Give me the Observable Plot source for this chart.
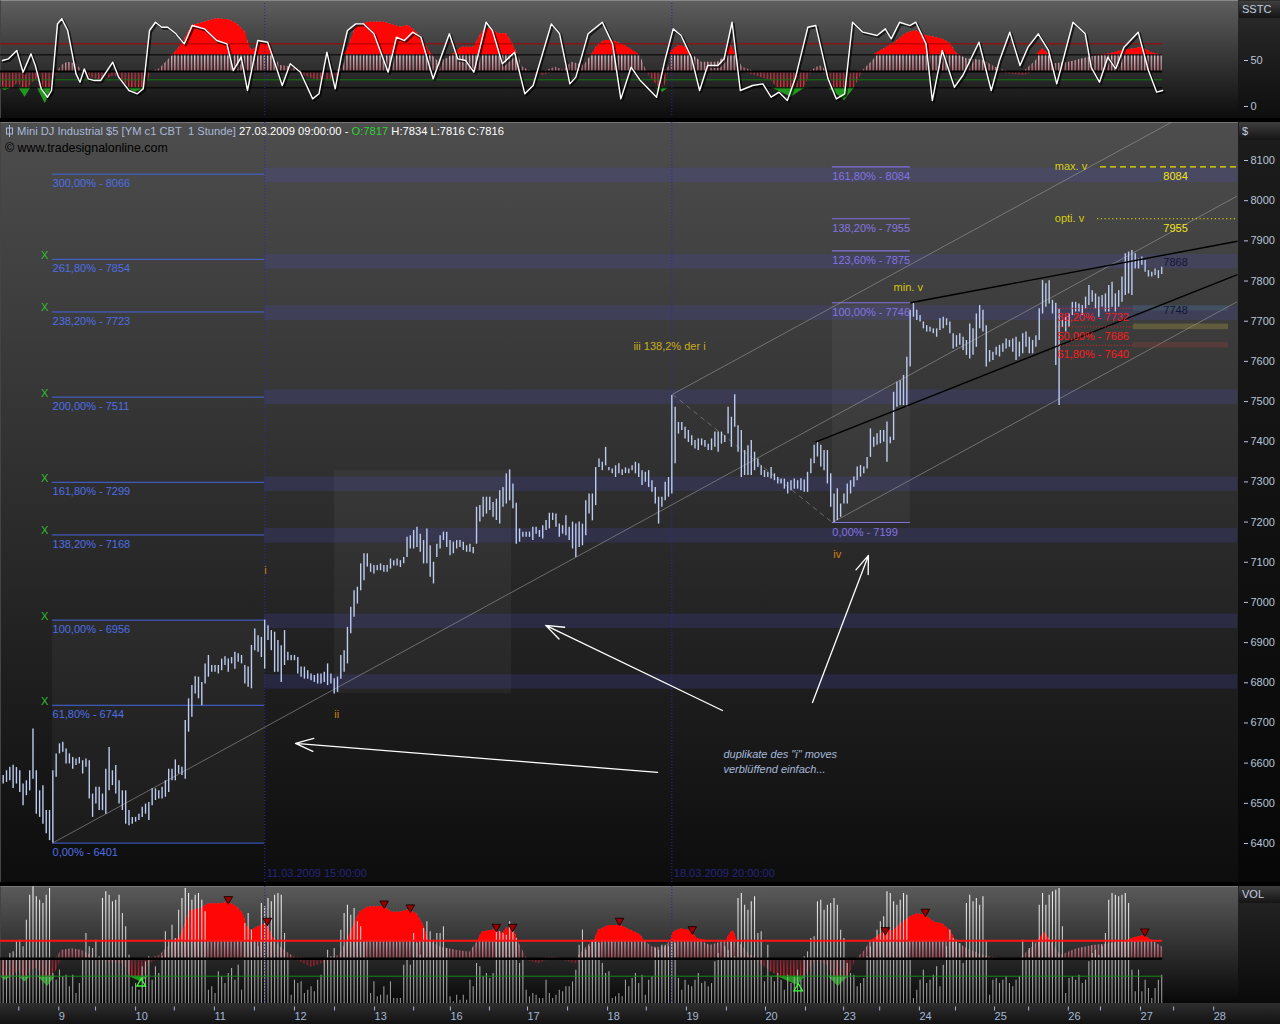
<!DOCTYPE html>
<html><head><meta charset="utf-8">
<script src="https://cdn.jsdelivr.net/npm/d3@7"></script>
<script src="https://cdn.jsdelivr.net/npm/@observablehq/plot@0.6"></script>
<style>
html,body{margin:0;padding:0;background:#000;}
#page{position:relative;width:1280px;height:1024px;overflow:hidden;font-family:"Liberation Sans",Arial,sans-serif;font-size:11px;}
.bg{position:absolute;box-sizing:border-box;}
.layer{position:absolute;left:0;width:1280px;}
.layer svg{display:block;overflow:visible;}
.tag{position:absolute;left:1239px;width:41px;height:17px;background:linear-gradient(#3e3e3e,#141414);color:#c4cce0;font-size:11px;line-height:17px;padding-left:3px;box-sizing:border-box;}
.hdr{position:absolute;left:5px;height:14px;line-height:14px;white-space:pre;}
</style></head><body>
<div id="page">
  <div class="bg" style="left:0;top:0;width:1238px;height:118px;background:linear-gradient(#5e5e5e,#0c0c0c);border-top:1px solid #8a8a8a;border-left:1px solid #444"></div>
  <div class="bg" style="left:1238px;top:0;width:42px;height:118px;background:linear-gradient(#2c2c2c,#0e0e0e)"></div>
  <div class="bg" style="left:0;top:122px;width:1238px;height:760px;background:linear-gradient(#4d4d4d,#0d0d0d);border-top:1px solid #777;border-left:1px solid #444"></div>
  <div class="bg" style="left:1238px;top:122px;width:42px;height:760px;background:linear-gradient(#1c1c1c,#070707)"></div>
  <div class="bg" style="left:0;top:886px;width:1238px;height:117px;background:linear-gradient(#5a5a5a,#080808);border-top:1px solid #777;border-left:1px solid #444"></div>
  <div class="bg" style="left:1238px;top:886px;width:42px;height:117px;background:linear-gradient(#262626,#0a0a0a)"></div>
  <div class="bg" style="left:0;top:1003px;width:1280px;height:21px;background:linear-gradient(#2e2e2e,#121212)"></div>
  <div class="tag" style="top:1px">SSTC</div>
  <div class="tag" style="top:122px;height:18px;line-height:18px">$</div>
  <div class="tag" style="top:886px">VOL</div>
  <div id="topLayer" class="layer" style="top:0"></div>
  <div id="mainLayer" class="layer" style="top:120px"></div>
  <div id="volLayerA" class="layer" style="top:884px"></div>
  <div id="volLayerB" class="layer" style="top:884px"></div>
  <div id="volLayerC" class="layer" style="top:884px"></div>
  <div class="hdr" style="top:124px;color:#a9b9d9;font-size:11.2px;"><svg width="9" height="12" style="vertical-align:-2px"><line x1="4.5" y1="0" x2="4.5" y2="12" stroke="#a9b9d9"/><rect x="1.5" y="3" width="6" height="6" fill="none" stroke="#a9b9d9"/></svg> Mini DJ Industrial $5 [YM c1 CBT  1 Stunde] <span style="color:#fff">27.03.2009 09:00:00 - </span><span style="color:#2fd22f">O:7817</span><span style="color:#fff"> H:7834 L:7816 C:7816</span></div>
  <div class="hdr" style="top:141px;color:#000;font-size:12.4px;">© www.tradesignalonline.com</div>
</div>
<script>
// ---------------- DATA ----------------
// hourly bars, index 0..350 (Mini DJ, YM c1 CBT, 1 Stunde)
const priceHigh = [
6569,6581,6590,6595,6589,6581,6548,6556,6581,6685,6581,6531,6544,6482,6482,6581,6623,6648,6652,6635,
6623,6614,6610,6614,6606,6610,6606,6523,6540,6540,6523,6585,6639,6581,6594,6556,6531,6531,6482,6465,
6465,6473,6490,6498,6502,6536,6536,6531,6540,6556,6585,6585,6608,6594,6590,6706,6760,6793,6815,6814,
6801,6847,6868,6843,6843,6843,6859,6865,6859,6863,6876,6872,6868,6843,6839,6893,6934,6917,6913,6956,
6942,6930,6926,6905,6892,6930,6876,6868,6868,6863,6839,6839,6830,6822,6818,6822,6822,6826,6847,6822,
6810,6814,6868,6880,6938,6988,7029,7038,7096,7121,7121,7096,7092,7092,7096,7092,7092,7108,7104,7108,
7104,7112,7162,7166,7179,7187,7170,7154,7183,7141,7100,7145,7166,7175,7175,7154,7150,7154,7154,7150,
7141,7145,7137,7237,7241,7262,7262,7262,7249,7257,7278,7286,7320,7330,7295,7247,7183,7175,7175,7175,
7187,7187,7179,7191,7204,7222,7222,7220,7195,7191,7216,7187,7200,7195,7200,7195,7253,7270,7270,7336,
7357,7349,7386,7336,7332,7340,7345,7330,7335,7332,7340,7349,7345,7328,7324,7328,7303,7286,7262,7262,
7299,7311,7515,7486,7448,7448,7436,7428,7415,7403,7407,7407,7403,7394,7407,7424,7424,7424,7415,7486,
7461,7517,7440,7428,7378,7390,7403,7374,7357,7340,7328,7324,7336,7320,7311,7307,7307,7299,7303,7307,
7303,7308,7305,7324,7357,7391,7399,7391,7378,7378,7320,7270,7283,7245,7270,7295,7303,7312,7337,7341,
7337,7361,7432,7411,7420,7428,7428,7449,7411,7523,7548,7552,7565,7610,7727,7746,7727,7714,7698,7689,
7685,7681,7681,7706,7710,7706,7698,7669,7664,7669,7660,7652,7693,7681,7718,7739,7727,7689,7627,7623,
7635,7640,7644,7656,7652,7656,7660,7648,7669,7673,7660,7652,7664,7731,7801,7793,7801,7752,7745,7730,
7702,7710,7718,7747,7747,7743,7739,7760,7789,7776,7768,7760,7764,7768,7789,7797,7768,7776,7810,7868,
7872,7876,7868,7855,7860,7851,7826,7822,7830,7826,7834];
const priceLow = [
6548,6552,6556,6537,6548,6527,6494,6519,6531,6560,6473,6465,6448,6424,6407,6401,6565,6623,6627,6598,
6598,6585,6594,6598,6573,6590,6511,6465,6498,6482,6482,6473,6531,6544,6523,6498,6482,6448,6444,6448,
6453,6457,6465,6473,6457,6494,6507,6511,6511,6515,6527,6556,6556,6573,6569,6560,6677,6714,6772,6760,
6743,6797,6814,6826,6826,6822,6830,6843,6826,6847,6834,6851,6847,6797,6789,6785,6880,6876,6863,6834,
6905,6880,6826,6826,6801,6843,6855,6855,6855,6822,6814,6809,6809,6805,6801,6797,6797,6801,6793,6797,
6772,6776,6809,6826,6847,6922,6963,6996,7029,7054,7088,7075,7071,7079,7079,7075,7075,7083,7091,7091,
7087,7096,7112,7133,7133,7137,7125,7096,7096,7063,7046,7112,7133,7154,7137,7116,7121,7133,7137,7129,
7125,7125,7121,7145,7200,7212,7220,7229,7212,7204,7195,7237,7245,7253,7233,7145,7150,7162,7162,7162,
7154,7170,7162,7158,7179,7183,7204,7187,7162,7170,7166,7154,7133,7112,7137,7141,7166,7220,7203,7241,
7336,7328,7340,7328,7320,7311,7320,7316,7321,7320,7328,7320,7311,7291,7299,7286,7274,7245,7195,7237,
7253,7262,7270,7345,7419,7428,7407,7398,7390,7382,7378,7390,7386,7378,7378,7386,7374,7394,7398,7419,
7386,7436,7374,7311,7316,7316,7316,7328,7336,7316,7311,7311,7307,7303,7295,7295,7282,7270,7278,7282,
7282,7278,7274,7274,7320,7345,7362,7337,7328,7295,7237,7199,7204,7212,7245,7245,7270,7287,7303,7312,
7320,7332,7361,7386,7391,7395,7399,7349,7395,7403,7486,7490,7490,7486,7586,7710,7702,7698,7681,7673,
7673,7669,7660,7677,7681,7689,7669,7631,7635,7640,7627,7615,7606,7615,7635,7681,7673,7586,7598,7602,
7615,7611,7623,7631,7635,7623,7602,7611,7619,7635,7619,7619,7635,7652,7718,7735,7743,7718,7590,7490,
7685,7673,7685,7714,7723,7723,7714,7731,7739,7747,7731,7710,7735,7723,7723,7735,7723,7735,7747,7764,
7768,7764,7830,7830,7839,7822,7810,7810,7814,7806,7816];
const volume = [
3900,4050,4500,4650,5550,5700,5100,7500,9750,10500,9600,9300,9000,9750,10350,2700,2100,3000,2400,2550,
1500,2550,900,1800,3900,6300,5100,4950,5700,4200,9450,10050,9750,9150,9300,9750,8100,6900,4350,1500,
1800,1200,3300,3750,4200,2100,3300,2700,4200,6450,5700,7050,5850,8400,9450,10350,9900,9300,9750,9900,
9300,8250,1200,1500,900,2850,2400,1800,2700,3150,2100,3450,1200,7200,8100,6600,5550,5100,9000,8700,
9450,9150,9750,9900,9750,6300,3900,750,2100,1800,1950,900,1200,1500,1050,2100,2550,3900,4800,4200,
4950,3900,6600,8100,8850,7950,8550,7350,6900,5550,3900,900,1950,600,750,1500,750,1950,450,450,
450,3450,3900,3450,6300,5400,4350,6750,7350,6450,5700,6300,6300,6900,4950,600,150,750,300,750,
300,2100,1500,3600,3300,2400,2700,2250,2700,6750,6450,6300,6150,7350,6750,5850,3600,4050,1200,600,
900,750,450,450,2100,900,450,750,1200,1050,1500,1500,1950,3000,5250,6600,4800,5100,5550,5700,
5400,3600,2700,2850,450,600,900,600,2100,1500,2250,2700,1800,2550,750,2100,2400,4950,4800,5250,
5250,5100,5700,5400,2250,1200,2100,1650,1500,2100,2700,1800,1950,1500,1800,3750,4500,3900,5100,4800,
5700,4200,9450,9900,8850,8400,9150,9600,6300,6450,1950,5250,2400,1950,2700,2100,1200,2550,1800,2400,
3000,2100,4200,4650,5850,6000,9150,9300,8400,8850,9000,9450,8850,6600,5850,3600,2700,2550,1500,1800,
2250,4200,5100,5550,6600,7350,7800,10050,9900,9150,8850,9300,9900,9750,3900,450,1200,2100,3000,1800,
2100,2550,3300,1500,3450,5100,6600,5850,5700,5400,3600,9000,9750,9150,9450,8850,9600,5550,750,2100,
2250,1800,2100,2400,1800,1500,2100,2400,5700,3900,4950,5550,4050,8850,9900,8850,9750,10050,10200,10350,
6900,900,2250,2400,2100,2550,1800,2100,3750,4500,4800,4350,5100,6300,9300,9900,9750,9600,9750,9900,
9000,3000,1050,3000,1050,2100,1350,450,1350,2100,2550];

// SSTC oscillator (top panel): [bar index, value]
const sstcLine = [[-0.2,50],[1.6,51.8],[4.1,60.9],[6,37.3],[8.4,57.2],[9.7,44.6],[11.5,19.2],[13.4,10.1],[14.6,17.4],[16.4,89.8],[17.7,95.3],[19.5,82.6],[22,35.5],[23.2,26.4],[24.5,40.9],[25.7,30.1],[27.5,28.2],[29.4,28.2],[33.1,48.2],[34.9,31.9],[38,17.4],[40.5,13.8],[42.3,19.2],[44.2,82.6],[46,91.6],[47.9,86.2],[49.7,86.2],[52.2,79],[54.7,68.1],[57.1,88],[60.8,84.4],[64.5,71.7],[67.6,68.1],[69.5,39.1],[71.9,53.6],[73.8,17.4],[76.9,71.7],[79.9,69.9],[81.8,50],[84.3,22.8],[86.7,46.4],[88,42.7],[89.8,37.3],[93.5,8.3],[95.4,13.8],[97.8,59],[100.3,19.2],[102.1,53.6],[104,82.6],[106.5,89.8],[108.9,89.8],[112,79],[116.3,37.3],[118.8,75.3],[121.2,71.7],[123.7,80.8],[126.2,75.3],[129.9,30.1],[134.8,79],[137.3,51.8],[139.7,50],[142.2,37.3],[145.9,91.6],[147.8,82.6],[150.8,46.4],[154.5,59],[157.6,13.8],[160.1,22.8],[165.6,89.8],[168.1,79],[171.2,24.6],[173,31.9],[176.7,79],[181,91.6],[184.1,68.1],[186.6,8.3],[189.7,42.7],[192.5,28.2],[197.4,10.1],[199.9,50],[202.4,84.4],[204.8,77.2],[207.9,53.6],[210.4,17.4],[212.8,44.6],[215.9,44.6],[217.8,51.8],[220.2,91.6],[222.7,17.4],[226.4,22.8],[229.5,24.6],[232,10.1],[234.4,15.6],[236.9,6.5],[239.4,31.9],[243.1,86.2],[245.5,88],[249.2,30.1],[251.7,8.3],[254.2,13.8],[256.6,91.6],[259.7,80.8],[264,77.2],[266.5,84.4],[268.3,73.5],[270.8,91.6],[273.9,88],[275.7,91.6],[278.8,68.1],[280.7,6.5],[283.7,60.9],[287.4,21],[289.9,33.7],[294.8,69.9],[298.5,17.4],[301,50],[304.1,80.8],[307.2,44.6],[309.6,64.5],[312.7,79],[315.8,60.9],[318.3,24.6],[323.2,91.6],[326.9,79],[328.7,42.7],[331.2,26.4],[333.7,53.6],[336.1,40.9],[338.6,64.5],[342.9,80.8],[346,39.1],[348.5,15.6],[350.3,17.4]];
const sstcHist = [[-0.8,28.2],[0.4,17.4],[2.9,20.3],[4.7,26.4],[6.6,10.1],[8.4,24.6],[10.3,30.1],[12.7,2.9],[14.6,20.3],[16.4,37.3],[17.7,44.6],[19.5,48.2],[22,46.4],[23.8,39.1],[25.7,31.9],[30,28.2],[33.7,33.7],[37.4,22.8],[39.9,15.6],[42.9,20.3],[44.8,37.3],[47.3,40.9],[49.7,50],[51.6,57.2],[54.1,68.1],[57.1,88],[60.8,91.6],[64.5,95.3],[68.2,94.2],[70.7,89.8],[73.2,80.8],[74.1,68.1],[75,60.9],[76.9,64.5],[78.7,71],[80.6,68.1],[81.8,55.4],[83.6,44.6],[88,42.7],[90.4,33.7],[95.3,28.2],[100.3,30.1],[102.8,42.7],[104,60.9],[106.5,86.2],[110.2,91.6],[115.1,91.6],[120,86.2],[122.5,88],[124.9,80.8],[127.4,68.1],[129.3,57.2],[131.1,50],[134.2,51.8],[136,57.2],[138.5,64.5],[142.2,64.5],[144.7,80.8],[147.1,86.2],[149.6,79],[152.1,79],[153.9,68.1],[155.5,56.1],[157,42.7],[159.5,37.3],[163.2,33.7],[166.9,42.7],[169.3,39.1],[171.8,48.2],[175.5,44.6],[178,57.2],[179.2,64.5],[181.7,71.7],[184.1,71.7],[187.8,66.3],[192.5,55],[194.4,37.3],[196.8,26.4],[199.3,15.6],[201.1,42.7],[202.1,60.9],[204.2,66.3],[206.1,64.5],[208.5,55.4],[211,48.2],[215.9,48.2],[218.4,55.4],[219.9,66.3],[221.5,55.4],[223.3,42.7],[227,33.7],[232,28.2],[235,15.6],[238.1,10.1],[241.8,19.2],[244.3,39.1],[246.8,44.6],[249.2,33.7],[251.7,13.8],[254.2,6.5],[257.2,20.3],[259.7,39.1],[262.8,50],[265.2,60.9],[269,68.1],[272.6,79],[275.7,82.6],[278.8,77.2],[283.7,73.5],[286.2,68.1],[288.1,57.2],[291.1,51.8],[296.1,50],[299.8,42.7],[303.5,35.5],[308.4,33.7],[312.1,50],[314,62.7],[315.8,57.2],[317.6,46.4],[322,48.2],[328.1,53.6],[334.3,57.2],[338,60.9],[341.7,62.7],[344.1,64.5],[346.6,59],[348.5,57.2],[350.3,55.4]];
const sstcLevels = {red: 68.1, upper: 56.1, base: 38, green: 29, lower: 20.3};

// oscillator inside the VOL panel: [bar index, value]
const volOsc = [[-0.8,27],[0.4,18.9],[2.9,22.4],[4.7,27],[6.6,17.6],[8.4,27],[10.3,29.2],[13.4,14.1],[15.8,25.7],[17.7,43.2],[20.8,44.6],[23.8,43.2],[27.5,37.8],[31.2,33.8],[36.2,32.4],[38.6,21.6],[41.7,17.6],[44.2,32.4],[47.3,39.2],[49.7,45.9],[51.6,51.1],[53.4,53.5],[54.7,62.2],[56.5,75.7],[59.6,77],[62.1,81.1],[65.8,81.1],[68.2,82.4],[70.7,78.4],[72.5,73],[73.8,62.2],[75,59.5],[76.9,62.2],[79.3,64.9],[80.6,59.5],[82,51.1],[84.3,44.6],[88,37.8],[92.9,29.7],[97.8,33.8],[101.5,39.2],[104,51.1],[105.2,59.5],[107.7,74.3],[110.2,78.4],[115.1,78.9],[117.5,74.3],[120,74.3],[122.5,76.2],[124.9,73],[126.8,64.9],[128.6,51.1],[132.3,45.9],[137.3,43.2],[141,41.9],[143.4,51.1],[144.7,58.1],[147.1,59.5],[149,60],[150.8,56.8],[152.3,61.6],[154.3,60],[155.5,51.1],[158.2,35.1],[161.9,32.4],[165.6,37.8],[169.3,35.1],[173,32.4],[176.7,47.3],[178.6,51.1],[179.8,59.5],[182.9,63.5],[186.6,63.5],[189.7,59.5],[192.5,56],[193.7,51.1],[196.2,45.9],[199.9,45.9],[201.7,51.1],[202.4,58.1],[204.8,60.8],[207.3,59.5],[209.8,52.7],[213.5,47.3],[218.4,51.1],[219.6,56.8],[220.6,59.5],[221.8,51.1],[225.8,39.2],[229.5,31.1],[234.4,21.6],[240,14.9],[242.4,22.4],[245.5,35.1],[249.2,31.1],[252.3,14.1],[255.4,22.4],[257.8,36.5],[260.3,43.2],[262.2,51.1],[264,54.1],[266.5,59.5],[269,59.5],[271.4,64.9],[273.9,70.3],[276.3,73],[278.8,71.6],[281.3,66.2],[283.7,64.9],[286.2,59.5],[287.7,51.1],[291.1,44.6],[296.1,39.2],[301,35.1],[307.2,35.1],[310.9,45.9],[312.7,51.1],[314.6,58.1],[316.4,51.1],[319.5,39.2],[324.4,44.6],[329.4,47.3],[334.3,48.6],[339.2,51.1],[341.7,53.5],[344.8,55.4],[347.2,51.1],[350.3,45.9]];
const volOscLevels = {red: 51.1, base: 36.5, green: 22.4};
const volOscPeaks = [[68,82.4],[79.8,64.9],[115.1,78.9],[123,75.7],[149,60],[153.9,60],[186.2,64.9],[208.2,58.1],[266.5,57.3],[278.6,72.2],[344.9,56.2]];
const volOscTroughs = [[41.7,18.9],[240.2,14.9]];

// time axis (bar index of session ticks)
const dayTicks = [16.8,40.0,63.8,88.0,112.2,135.1,158.4,182.6,206.4,230.3,253.9,276.8,299.5,321.8,343.6,365.7];
const dayLabels = ["9","10","11","12","13","16","17","18","19","20","23","24","25","26","27","28"];
const halfTicks = [4.7,27.9,51.7,75.9,100.1,124.0,146.9,170.5,194.3,218.5,242.4,264.8,287.7,309.8,331.5,353.6];
const markerBars = [{i:79, t:"11.03.2009 15:00:00"}, {i:202, t:"18.03.2009 20:00:00"}];

// Fibonacci projections
const fibLeft = [
  {pct:"300,00%", p:8066, x:false}, {pct:"261,80%", p:7854, x:true}, {pct:"238,20%", p:7723, x:true},
  {pct:"200,00%", p:7511, x:true}, {pct:"161,80%", p:7299, x:true}, {pct:"138,20%", p:7168, x:true},
  {pct:"100,00%", p:6956, x:true}, {pct:"61,80%", p:6744, x:true}, {pct:"0,00%", p:6401, x:false}];
const fibLeftSpan = [14.9, 79];
const fibRight = [{pct:"161,80%", p:8084},{pct:"138,20%", p:7955},{pct:"123,60%", p:7875},{pct:"100,00%", p:7746},{pct:"0,00%", p:7199}];
const fibRightSpan = [250.5, 274.1];
const retrace = [{pct:"38,20%", p:7732, c:"#4a8888", o:0.22},{pct:"50,00%", p:7686, c:"#a09a40", o:0.35},{pct:"61,80%", p:7640, c:"#9a4040", o:0.3}];
const retraceSpan = [318.5, 341.8];
const retraceBoxSpan = [341.5, 370.2];
const bandLevels = [8063, 7848, 7720, 7511, 7294, 7166, 6953, 6802];
const fibBoxes = [{x1:14.9,x2:79,y1:6401,y2:6956},{x1:100.1,x2:153.6,y1:6773,y2:7328},{x1:250.5,x2:274.1,y1:7199,y2:7746}];
const channels = [{x1:14.9,y1:6401,x2:372.9,y2:8012},{x1:202.2,y1:7518,x2:372.9,y2:8285},{x1:250.5,y1:7199,x2:372.9,y2:7749}];
const dashed = [{x1:202.2,y1:7518,x2:250.5,y2:7199}];
const wedge = [{x1:274.1,y1:7746,x2:372.9,y2:7899},{x1:245.4,y1:7399,x2:372.9,y2:7816}];
const targetMax = [{name:"max. v", p:8084, from:331.5}];
const targetOpt = [{name:"opti. v", p:7955, from:330.6}];
const waveLabels = [{i:78.9,p:7079,t:"i",c:"#d2820e"},{i:100,p:6721,t:"ii",c:"#d2820e"},{i:190.4,p:7637,t:"iii 138,2% der i",c:"#c9ae1c"},{i:250.8,p:7119,t:"iv",c:"#d2820e"},{i:269,p:7784,t:"min. v",c:"#d4c414"}];
const sideNumbers = [{i:350.5,p:7846,t:"7868"},{i:350.5,p:7727,t:"7748"}];
const arrows = [{x1:217.3,y1:6731,x2:163.9,y2:6943},{x1:197.7,y1:6577,x2:88.3,y2:6649},{x1:244.5,y1:6751,x2:261.4,y2:7117}];
const note = {i:217.6, p:6640, t:"duplikate des \"i\" moves\nverblüffend einfach..."};

// ---------------- CHART ----------------
const X_DOMAIN = [-0.816, 372.9];
const FONT = '"Liberation Sans", Arial, sans-serif';
const common = {width:1280, marginLeft:0, marginRight:43,
  style:{background:"transparent", color:"#fff", fontFamily:FONT, fontSize:"11px", overflow:"visible"}};
const bars = priceHigh.map((h, i) => ({i, high:h, low:priceLow[i]}));
const vols = volume.map((v, i) => ({i, v}));
const lastBar = priceHigh.length - 1 + 0.3;

function addDefs(svg, html) {
  d3.select(svg).insert("defs", ":first-child").html(html);
}

// ---- top panel (SSTC) ----
const L = sstcLevels;
const topPlot = Plot.plot({...common, height:120, marginTop:3, marginBottom:3,
  x:{domain:X_DOMAIN, axis:null}, y:{domain:[-11.96, 111.96]},
  marks:[
    Plot.areaY(sstcHist, {x:d=>d[0], y1:L.base, y2:d=>Math.max(d[1], L.base), fill:"url(#pTopUp)"}),
    Plot.areaY(sstcHist, {x:d=>d[0], y1:L.base, y2:d=>Math.min(d[1], L.base), fill:"url(#pTopDn)"}),
    Plot.areaY(sstcHist, {x:d=>d[0], y1:L.upper, y2:d=>Math.max(d[1], L.upper), fill:"#ff0606"}),
    Plot.areaY(sstcHist, {x:d=>d[0], y1:L.lower, y2:d=>Math.min(d[1], L.lower), fill:"#1f9a1f"}),
    Plot.ruleY([L.red], {x1:-0.8, x2:lastBar, stroke:"#a80000", strokeWidth:1}),
    Plot.ruleY([L.upper, L.lower], {x1:-0.8, x2:lastBar, stroke:"#000", strokeWidth:1}),
    Plot.ruleY([L.base], {x1:-0.8, x2:lastBar, stroke:"#000", strokeWidth:2}),
    Plot.ruleY([L.green], {x1:-0.8, x2:lastBar, stroke:"#127a12", strokeWidth:1}),
    Plot.ruleX(markerBars, {x:"i", stroke:"#26269a", strokeDasharray:"1,2"}),
    Plot.line(sstcLine, {x:d=>d[0], y:d=>d[1], stroke:"#000", strokeOpacity:0.65, strokeWidth:2.2, dx:1.5, dy:1.5}),
    Plot.line(sstcLine, {x:d=>d[0], y:d=>d[1], stroke:"#fff", strokeWidth:1.4}),
    Plot.axisY({anchor:"right", ticks:[0, 50], tickFormat:d=>String(d), tickSize:4, tickPadding:3, dx:6, color:"#b8c4d8", fontSize:11, label:null})
  ]});
addDefs(topPlot, `
 <linearGradient id="gTopUp" gradientUnits="userSpaceOnUse" x1="0" y1="53" x2="0" y2="71"><stop offset="0" stop-color="#f2d4e0"/><stop offset="1" stop-color="#c86a78"/></linearGradient>
 <linearGradient id="gTopDn" gradientUnits="userSpaceOnUse" x1="0" y1="71" x2="0" y2="88"><stop offset="0" stop-color="#a83040"/><stop offset="1" stop-color="#ff2a3a"/></linearGradient>
 <pattern id="pTopUp" patternUnits="userSpaceOnUse" x="2.1" y="0" width="3.31" height="120"><rect x="0" y="0" width="1.3" height="120" fill="url(#gTopUp)"/></pattern>
 <pattern id="pTopDn" patternUnits="userSpaceOnUse" x="2.1" y="0" width="3.31" height="120"><rect x="0" y="0" width="1.3" height="120" fill="url(#gTopDn)"/></pattern>`);
document.getElementById("topLayer").append(topPlot);

// ---- main price panel ----
const mainPlot = Plot.plot({...common, height:764, marginTop:2, marginBottom:2,
  x:{domain:X_DOMAIN, axis:null}, y:{domain:[6302.9, 8194.6]},
  marks:[
    Plot.rect(fibBoxes, {x1:"x1", x2:"x2", y1:"y1", y2:"y2", fill:"#ffffff", fillOpacity:0.045}),
    Plot.rect(bandLevels, {x1:79, x2:X_DOMAIN[1], y1:d=>d-18, y2:d=>d+18, fill:"#4a4ac8", fillOpacity:0.2}),
    Plot.ruleY(fibLeft, {y:"p", x1:fibLeftSpan[0], x2:fibLeftSpan[1], stroke:"#4466e0", strokeWidth:1}),
    Plot.text(fibLeft, {x:fibLeftSpan[0], y:"p", text:d=>`${d.pct} - ${d.p}`, textAnchor:"start", dy:9.5, fill:"#4d6ee6", fontSize:11}),
    Plot.text(fibLeft.filter(d=>d.x), {x:12.5, y:"p", text:()=>"X", dy:-4, fill:"#2fbf2f", fontSize:11}),
    Plot.ruleY(fibRight, {y:"p", x1:fibRightSpan[0], x2:fibRightSpan[1], stroke:"#8070e0", strokeWidth:1.2}),
    Plot.text(fibRight, {x:fibRightSpan[0], y:"p", text:d=>`${d.pct} - ${d.p}`, textAnchor:"start", dy:10, fill:"#8474e2", fontSize:11}),
    Plot.link(channels, {x1:"x1", y1:"y1", x2:"x2", y2:"y2", stroke:"#9a9a9a", strokeOpacity:0.75, strokeWidth:0.8, clip:true}),
    Plot.link(dashed, {x1:"x1", y1:"y1", x2:"x2", y2:"y2", stroke:"#9a9a9a", strokeOpacity:0.7, strokeWidth:0.8, strokeDasharray:"5,4"}),
    Plot.rect(retrace, {x1:retraceBoxSpan[0], x2:retraceBoxSpan[1], y1:d=>d.p-7, y2:d=>d.p+7, fill:d=>d.c, fillOpacity:d=>d.o}),
    Plot.ruleX(markerBars, {x:"i", stroke:"#2a2aa8", strokeDasharray:"1,2"}),
    Plot.text(markerBars, {x:"i", frameAnchor:"bottom", text:"t", textAnchor:"start", dx:2, dy:-6, fill:"#25257c", fontSize:11}),
    Plot.ruleX(bars, {x:"i", y1:"low", y2:"high", stroke:"#bccbf0", strokeWidth:1.4}),
    Plot.link(wedge, {x1:"x1", y1:"y1", x2:"x2", y2:"y2", stroke:"#000", strokeWidth:1.4}),
    Plot.ruleY(retrace, {y:"p", x1:retraceSpan[0], x2:retraceSpan[1], stroke:"#e82020", strokeDasharray:"1,2"}),
    Plot.text(retrace, {x:retraceSpan[0], y:"p", text:d=>`${d.pct} - ${d.p}`, textAnchor:"start", dy:9.5, fill:"#ff1a1a", fontSize:11}),
    Plot.ruleY(targetMax, {y:"p", x1:"from", x2:X_DOMAIN[1], stroke:"#f0e400", strokeWidth:1.3, strokeDasharray:"6,4"}),
    Plot.ruleY(targetOpt, {y:"p", x1:"from", x2:X_DOMAIN[1], stroke:"#f0e400", strokeWidth:1.2, strokeDasharray:"1.2,2.6"}),
    Plot.text(targetMax.concat(targetOpt), {x:317.7, y:"p", text:"name", textAnchor:"start", fill:"#d8cc10", fontSize:11}),
    Plot.text(targetMax.concat(targetOpt), {x:350.5, y:"p", text:d=>String(d.p), textAnchor:"start", dy:9.5, fill:"#f2e418", fontSize:11}),
    Plot.text(sideNumbers, {x:"i", y:"p", text:"t", textAnchor:"start", fill:"#14143a", fontSize:11}),
    Plot.text(waveLabels, {x:"i", y:"p", text:"t", textAnchor:"start", fill:d=>d.c, fontSize:11}),
    Plot.arrow(arrows, {x1:"x1", y1:"y1", x2:"x2", y2:"y2", stroke:"#ffffff", strokeWidth:1.3, headLength:22, headAngle:40}),
    Plot.text([note], {x:"i", y:"p", text:"t", textAnchor:"start", lineAnchor:"top", lineHeight:1.36, fill:"#a6b8da", fontStyle:"italic", fontSize:11}),
    Plot.axisY({anchor:"right", ticks:d3.range(6400, 8101, 100), tickFormat:d=>String(d), tickSize:4, tickPadding:3, dx:6, color:"#b8c4d8", fontSize:11, label:null})
  ]});
document.getElementById("mainLayer").append(mainPlot);

// ---- volume panel ----
const V = volOscLevels;
const OSC_DOMAIN = [0.27, 95.1];
const volOscAreas = Plot.plot({...common, height:140, marginTop:2, marginBottom:21,
  x:{domain:X_DOMAIN, axis:null}, y:{domain:OSC_DOMAIN, axis:null},
  marks:[
    Plot.areaY(volOsc, {x:d=>d[0], y1:V.base, y2:d=>Math.max(d[1], V.base), fill:"url(#pVolUp)"}),
    Plot.areaY(volOsc, {x:d=>d[0], y1:V.base, y2:d=>Math.min(d[1], V.base), fill:"url(#pVolDn)"}),
    Plot.areaY(volOsc, {x:d=>d[0], y1:V.red, y2:d=>Math.max(d[1], V.red), fill:"#ff0606"}),
    Plot.areaY(volOsc, {x:d=>d[0], y1:V.green, y2:d=>Math.min(d[1], V.green), fill:"#1f9a1f"})
  ]});
addDefs(volOscAreas, `
 <linearGradient id="gVolUp" gradientUnits="userSpaceOnUse" x1="0" y1="56" x2="0" y2="74"><stop offset="0" stop-color="#e0a0b0"/><stop offset="1" stop-color="#b84a5a"/></linearGradient>
 <linearGradient id="gVolDn" gradientUnits="userSpaceOnUse" x1="0" y1="74" x2="0" y2="92"><stop offset="0" stop-color="#8a2030"/><stop offset="1" stop-color="#e02030"/></linearGradient>
 <pattern id="pVolUp" patternUnits="userSpaceOnUse" x="2.1" y="0" width="3.31" height="140"><rect x="0" y="0" width="1.3" height="140" fill="url(#gVolUp)"/></pattern>
 <pattern id="pVolDn" patternUnits="userSpaceOnUse" x="2.1" y="0" width="3.31" height="140"><rect x="0" y="0" width="1.3" height="140" fill="url(#gVolDn)"/></pattern>`);
document.getElementById("volLayerA").append(volOscAreas);

const volPlot = Plot.plot({...common, height:140, marginTop:2, marginBottom:21,
  x:{domain:X_DOMAIN, label:null}, y:{domain:[0, 10530], axis:null},
  marks:[
    Plot.ruleX(vols, {x:"i", y1:0, y2:"v", stroke:"url(#gVolBar)", strokeWidth:1.1}),
    Plot.axisX({ticks:dayTicks, tickFormat:d=>dayLabels[dayTicks.indexOf(d)], tickSize:4, tickPadding:1, dy:3.5, textAnchor:"start", color:"#a4b8d6", fontSize:11, label:null}),
    Plot.axisX({ticks:halfTicks, tickFormat:()=>"", tickSize:4, dy:3.5, color:"#a4b8d6", label:null})
  ]});
addDefs(volPlot, `<linearGradient id="gVolBar" gradientUnits="userSpaceOnUse" x1="0" y1="2" x2="0" y2="119"><stop offset="0" stop-color="#f4f4f4"/><stop offset="1" stop-color="#8c8c8c"/></linearGradient>`);
document.getElementById("volLayerB").append(volPlot);

const volOscLines = Plot.plot({...common, height:140, marginTop:2, marginBottom:21,
  x:{domain:X_DOMAIN, axis:null}, y:{domain:OSC_DOMAIN, axis:null},
  marks:[
    Plot.ruleY([V.base], {x1:-0.8, x2:lastBar, stroke:"#000", strokeWidth:2.5}),
    Plot.ruleY([V.red], {x1:-0.8, x2:lastBar, stroke:"#ff1414", strokeWidth:2}),
    Plot.ruleY([V.green], {x1:-0.8, x2:lastBar, stroke:"#188a18", strokeWidth:1}),
    Plot.ruleX(markerBars, {x:"i", stroke:"#26269a", strokeDasharray:"1,2"}),
    Plot.dot(volOscPeaks, {x:d=>d[0], y:d=>d[1], symbol:"triangle", rotate:180, r:3.2, dy:-3, fill:"#9a0000", stroke:"#200000", strokeWidth:1}),
    Plot.dot(volOscTroughs, {x:d=>d[0], y:d=>d[1], symbol:"triangle", r:3.2, dy:3, fill:"none", stroke:"#3cff3c", strokeWidth:1.3})
  ]});
document.getElementById("volLayerC").append(volOscLines);
</script>
</body></html>
